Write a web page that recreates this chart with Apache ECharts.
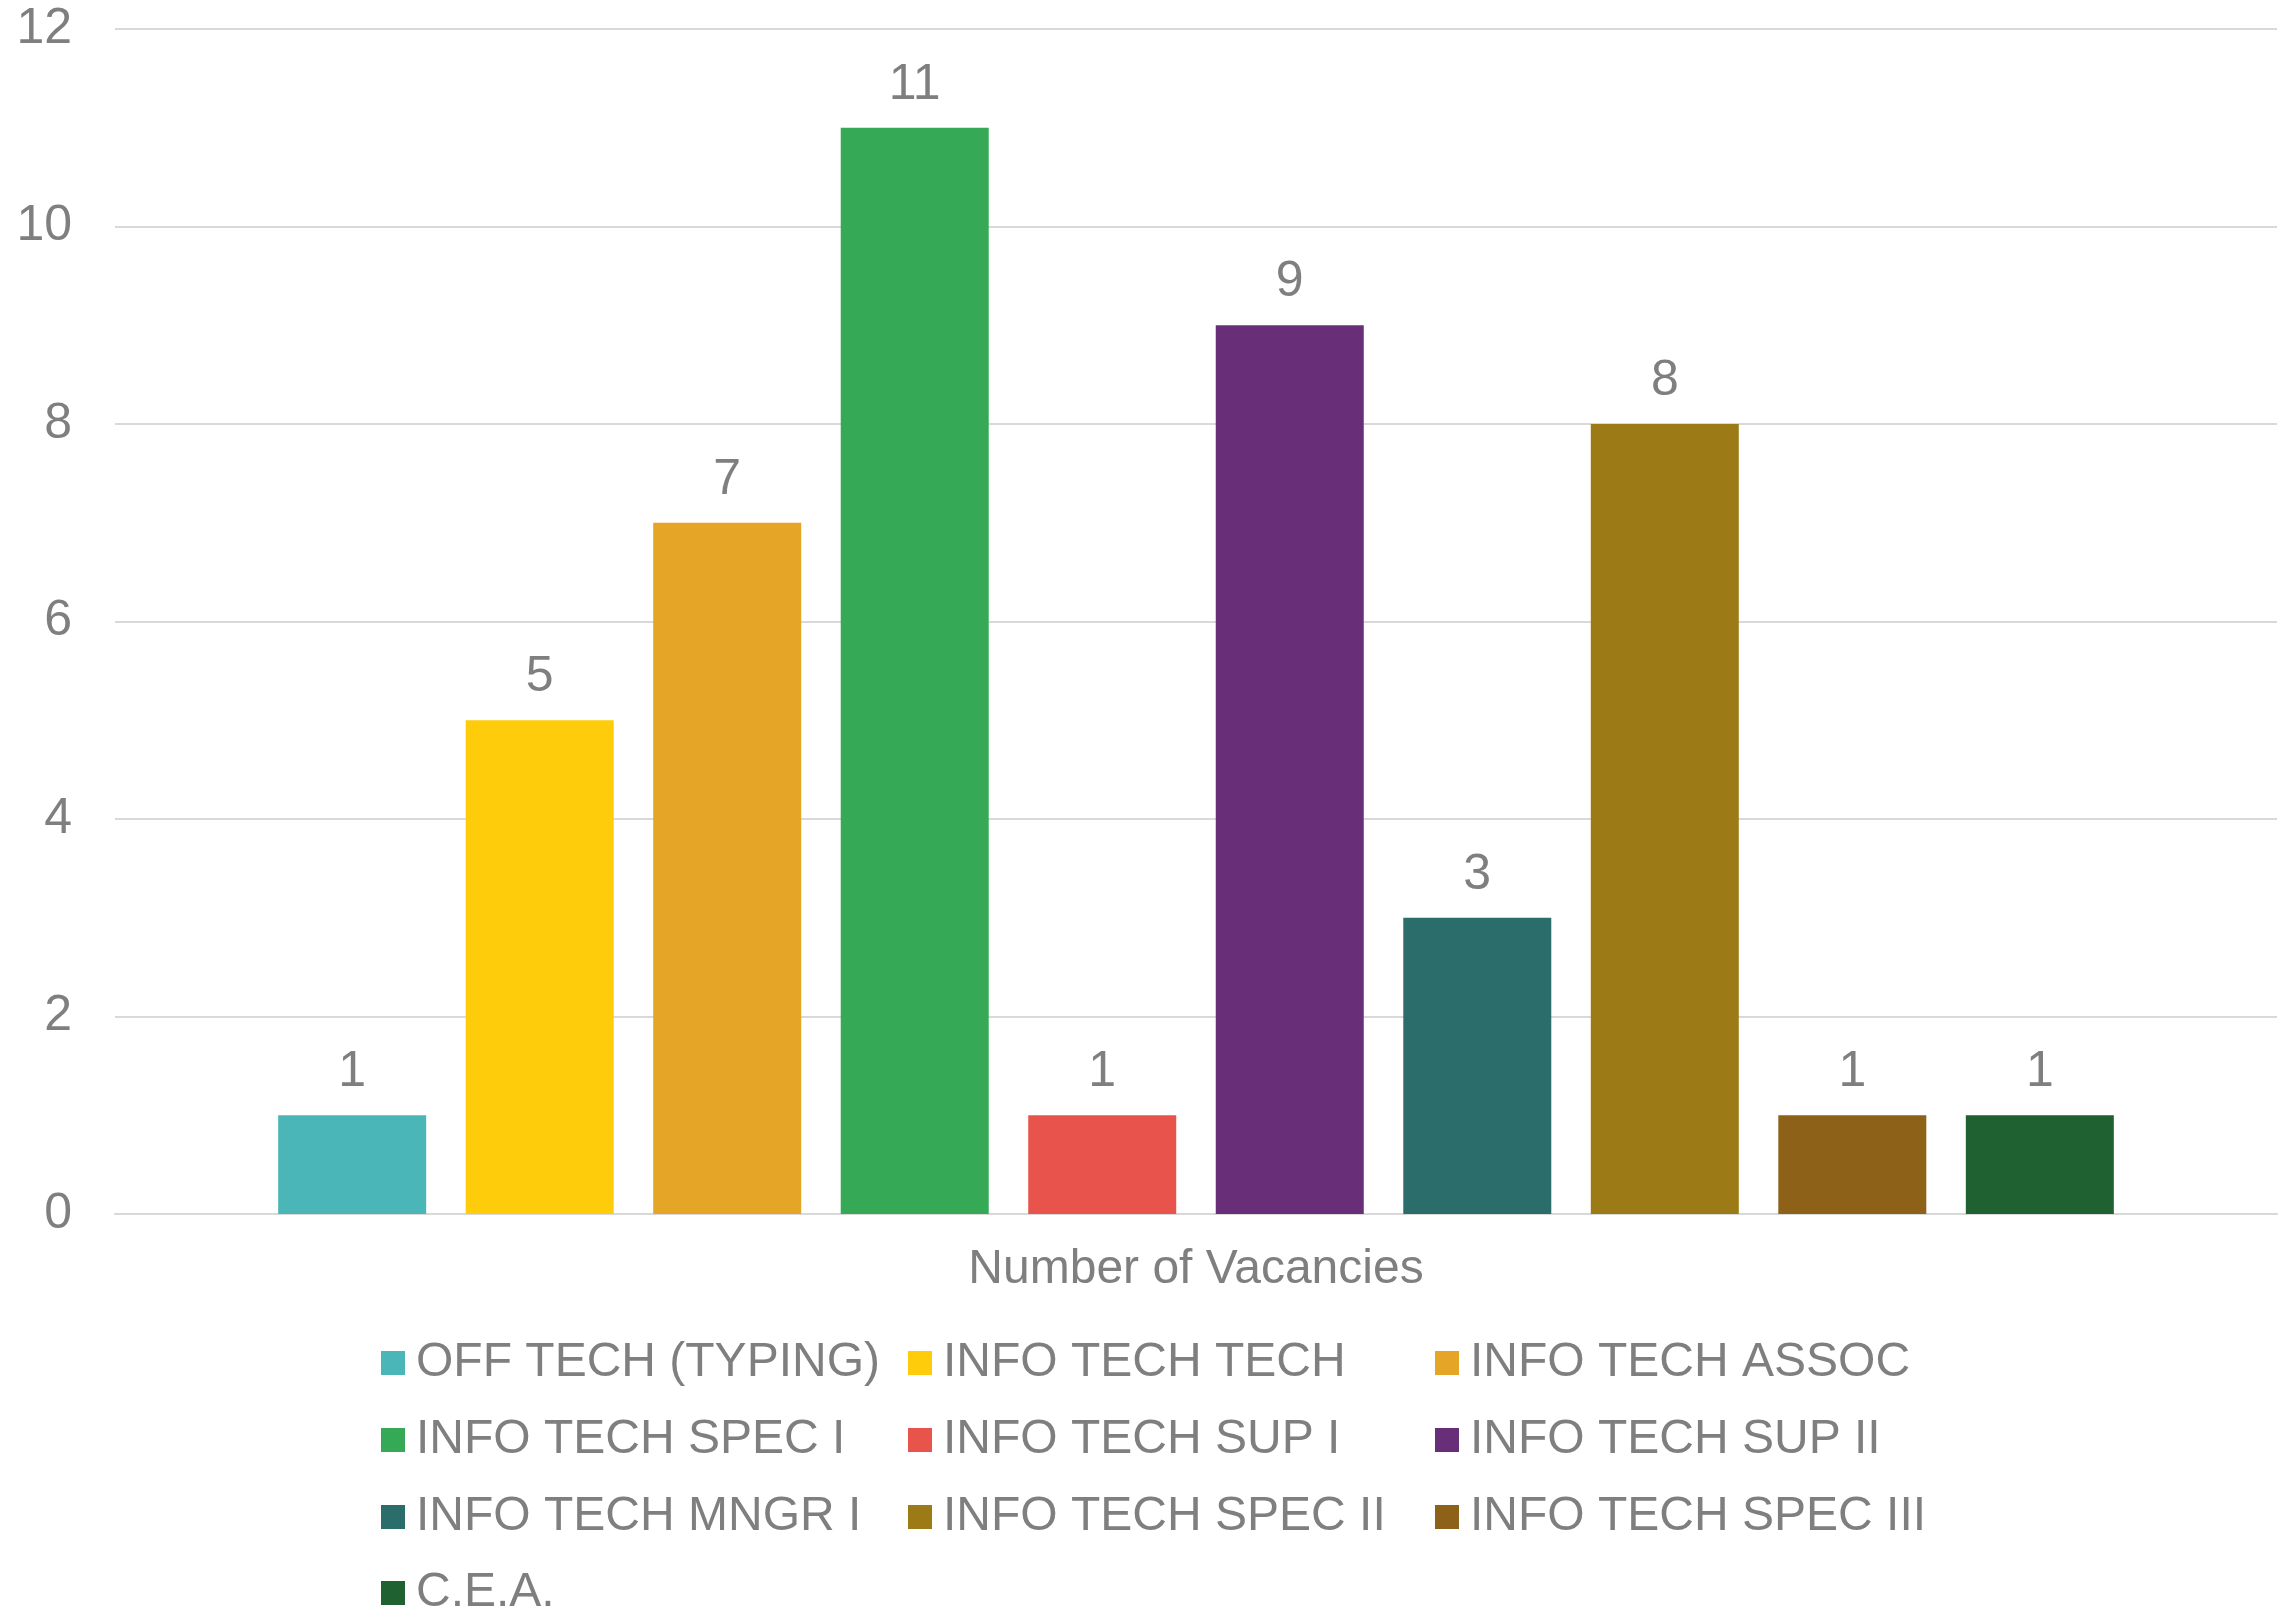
<!DOCTYPE html>
<html>
<head>
<meta charset="utf-8">
<script src="https://cdn.jsdelivr.net/npm/echarts@6/dist/echarts.min.js"></script>
<style>
html,body{margin:0;padding:0;background:#fff;}
#chart{width:2286px;height:1621px;}
</style>
</head>
<body>
<div id="chart"></div>
<script>
const categories = ['Number of Vacancies'];
const seriesNames = ['OFF TECH (TYPING)', 'INFO TECH TECH', 'INFO TECH ASSOC', 'INFO TECH SPEC I', 'INFO TECH SUP I', 'INFO TECH SUP II', 'INFO TECH MNGR I', 'INFO TECH SPEC II', 'INFO TECH SPEC III', 'C.E.A.'];
const seriesValues = [1, 5, 7, 11, 1, 9, 3, 8, 1, 1];
const seriesColors = ['#4AB6B7', '#FECC0A', '#E5A527', '#36A957', '#E8534C', '#682E78', '#2B6D6B', '#9C7A15', '#8E6119', '#1F6131'];
const yTicks = { min: 0, max: 12, interval: 2 };

const legendCols = [
  [seriesNames[0], seriesNames[3], seriesNames[6]],
  [seriesNames[1], seriesNames[4], seriesNames[7]],
  [seriesNames[2], seriesNames[5], seriesNames[8]],
  [seriesNames[9]]
];
const legendLefts = [381, 908, 1435, 381];
const legendTops = [1339, 1339, 1339, 1569];

const FONT = '"Liberation Sans", Arial, Helvetica, sans-serif';
const TXT = '#7F7F7F';

const chart = echarts.init(document.getElementById('chart'), null, { renderer: 'canvas' });

const series = seriesNames.map((name, i) => ({
  name: name,
  type: 'bar',
  data: [seriesValues[i]],
  barWidth: 148,
  barGap: '26.7%',
  itemStyle: { color: seriesColors[i] },
  label: {
    show: true,
    position: 'top',
    distance: 18,
    color: TXT,
    fontSize: 50,
    fontFamily: FONT
  },
  emphasis: { disabled: true }
}));

const legends = legendCols.map((col, i) => ({
  orient: 'vertical',
  left: legendLefts[i],
  top: legendTops[i],
  data: col,
  icon: 'rect',
  itemWidth: 24,
  itemHeight: 24,
  itemGap: 29,
  selectedMode: false,
  padding: 0,
  textStyle: {
    color: TXT,
    fontSize: 48,
    lineHeight: 48,
    fontFamily: FONT,
    padding: [0, 0, 0, 6]
  }
}));

chart.setOption({
  animation: false,
  backgroundColor: '#ffffff',
  textStyle: { fontFamily: FONT },
  grid: { left: 115, right: 9, top: 29, bottom: 407, containLabel: false },
  legend: legends,
  xAxis: {
    type: 'category',
    data: categories,
    axisLine: { show: true, lineStyle: { color: '#D9D9D9', width: 2 } },
    axisTick: { show: false },
    axisLabel: { color: TXT, fontSize: 48, fontFamily: FONT, margin: 32 }
  },
  yAxis: {
    type: 'value',
    min: yTicks.min,
    max: yTicks.max,
    interval: yTicks.interval,
    axisLine: { show: false },
    axisTick: { show: false },
    axisLabel: { color: TXT, fontSize: 50, fontFamily: FONT, margin: 43 },
    splitLine: { show: true, lineStyle: { color: '#D9D9D9', width: 2 } }
  },
  series: series
});
</script>
</body>
</html>
